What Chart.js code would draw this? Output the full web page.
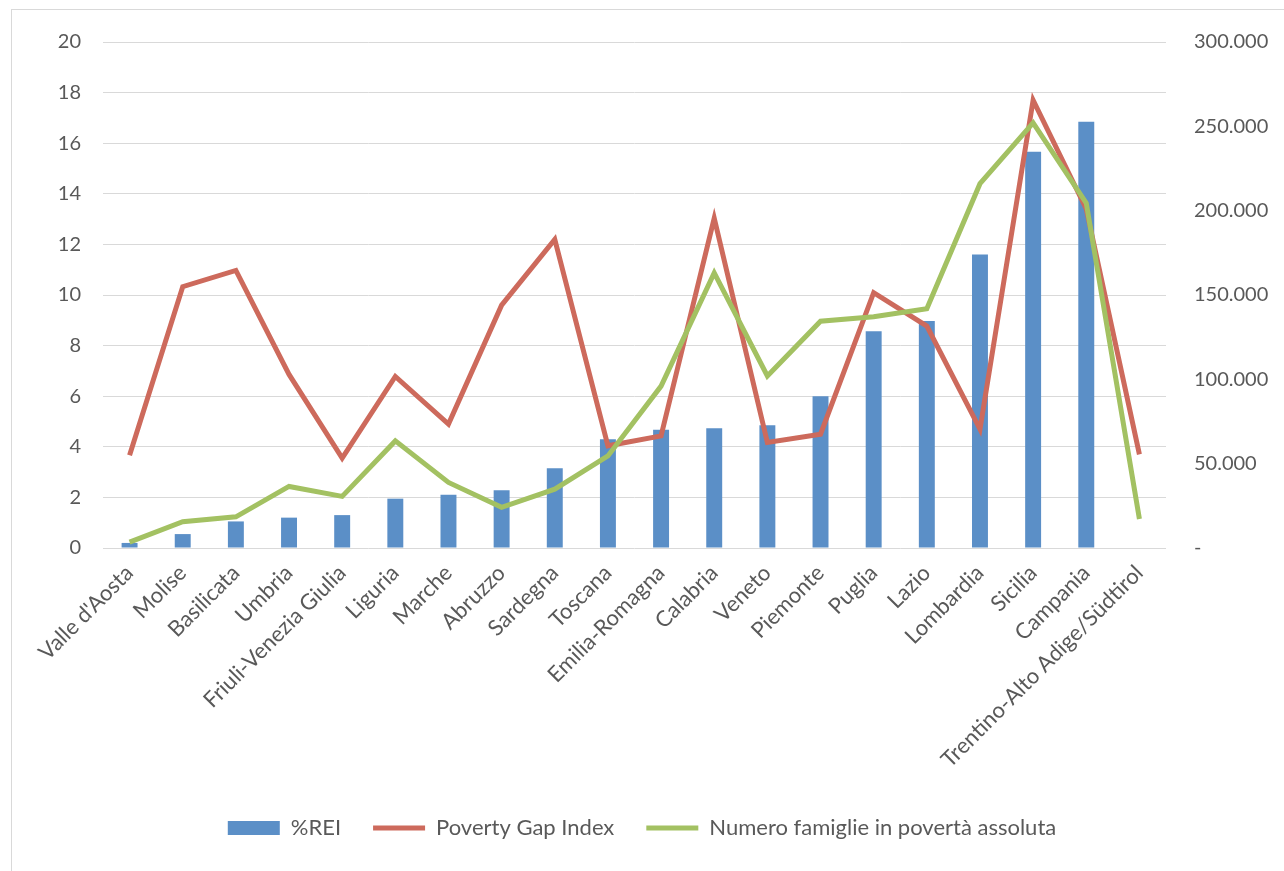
<!DOCTYPE html>
<html lang="it">
<head>
  <meta charset="UTF-8">
  <title>REI e povertà per regione</title>
  <script src="https://cdn.jsdelivr.net/npm/chart.js"></script>
  <style>
    html, body { margin: 0; padding: 0; background: #fff; }
    .frame { position: absolute; left: 11px; top: 9px; width: 1400px; height: 1000px; border-left: 1px solid #d9d9d9; border-top: 1px solid #d9d9d9; }
    .wrap { position: absolute; left: 0; top: 0; width: 1284px; height: 871px; }
  </style>
</head>
<body>
  <div class="frame"></div>
  <div class="wrap"><canvas id="chart"></canvas></div>

  <script>
    const regioni = ["Valle d'Aosta", 'Molise', 'Basilicata', 'Umbria', 'Friuli-Venezia Giulia', 'Liguria', 'Marche',
      'Abruzzo', 'Sardegna', 'Toscana', 'Emilia-Romagna', 'Calabria', 'Veneto', 'Piemonte', 'Puglia', 'Lazio',
      'Lombardia', 'Sicilia', 'Campania', 'Trentino-Alto Adige/Südtirol'];

    const rei = [0.2, 0.55, 1.05, 1.2, 1.3, 1.95, 2.1, 2.28, 3.15, 4.3, 4.67, 4.73, 4.85, 6.0, 8.57, 8.97, 11.6, 15.66, 16.85, null];

    const povertyGap = [3.67, 10.33, 10.97, 6.86, 3.55, 6.78, 4.9, 9.6, 12.2, 4.04, 4.43, 13.04, 4.17, 4.5, 10.09, 8.77, 4.7, 17.7, 13.4, 3.7];

    const famiglie = [3500, 15600, 18500, 36500, 30600, 63500, 38900, 24100, 34900, 54600, 96000, 163100, 102000,
      134500, 137100, 141800, 216000, 252000, 204500, 17200];

    const tickSx = [0, 2, 4, 6, 8, 10, 12, 14, 16, 18, 20];
    const tickDx = [0, 50000, 100000, 150000, 200000, 250000, 300000];

    const grigio = '#595959';
    const fontTick = { family: 'Lato', size: 20 };
    const fontCat = { family: 'Lato', size: 22 };
    const fontLeg = { family: 'Lato', size: 22 };

    const ctx = document.getElementById('chart').getContext('2d');
    new Chart(ctx, {
      data: {
        labels: regioni,
        datasets: [
          {
            type: 'bar',
            label: '%REI',
            data: rei,
            yAxisID: 'y',
            backgroundColor: '#5b8fc7',
            borderWidth: 0,
            barPercentage: 0.3,
            categoryPercentage: 1,
            pointStyle: 'rect',
            order: 3
          },
          {
            type: 'line',
            label: 'Poverty Gap Index',
            data: povertyGap,
            yAxisID: 'y',
            borderColor: '#cd6a5c',
            borderWidth: 5,
            tension: 0,
            pointRadius: 0,
            pointStyle: 'line',
            pointBorderColor: '#cd6a5c',
            pointBackgroundColor: '#cd6a5c',
            pointBorderWidth: 5,
            order: 2
          },
          {
            type: 'line',
            label: 'Numero famiglie in povertà assoluta',
            data: famiglie,
            yAxisID: 'y1',
            borderColor: '#a3c162',
            borderWidth: 5,
            tension: 0,
            pointRadius: 0,
            pointStyle: 'line',
            pointBorderColor: '#a3c162',
            pointBackgroundColor: '#a3c162',
            pointBorderWidth: 5,
            order: 1
          }
        ]
      },
      options: {
        responsive: true,
        maintainAspectRatio: false,
        animation: false,
        layout: { padding: { top: 42, bottom: 22, left: 0, right: 0 } },
        plugins: {
          tooltip: { enabled: false },
          legend: {
            position: 'bottom',
            labels: {
              color: grigio,
              font: fontLeg,
              usePointStyle: true,
              pointStyleWidth: 52,
              boxHeight: 14,
              padding: 32,
              sort: (a, b) => a.datasetIndex - b.datasetIndex
            }
          }
        },
        scales: {
          x: {
            grid: { display: false },
            border: { display: false },
            ticks: {
              color: grigio,
              font: fontCat,
              autoSkip: false,
              maxRotation: 45,
              minRotation: 45,
              padding: 4
            },
            afterFit: (s) => { s.height = 237; }
          },
          y: {
            position: 'left',
            min: 0,
            max: 20,
            afterBuildTicks: (s) => { s.ticks = tickSx.map(v => ({ value: v })); },
            grid: { color: '#d9d9d9', lineWidth: 1, drawTicks: false },
            border: { display: false },
            ticks: { color: grigio, font: fontTick, padding: 22 },
            afterFit: (s) => { s.width = 103; }
          },
          y1: {
            position: 'right',
            min: 0,
            max: 300000,
            afterBuildTicks: (s) => { s.ticks = tickDx.map(v => ({ value: v })); },
            grid: { display: false, drawTicks: false },
            border: { display: false },
            ticks: {
              color: grigio,
              font: fontTick,
              padding: 28,
              callback: (v) => v === 0 ? '-' : v.toLocaleString('it-IT')
            },
            afterFit: (s) => { s.width = 118; }
          }
        }
      }
    });
  </script>
</body>
</html>
